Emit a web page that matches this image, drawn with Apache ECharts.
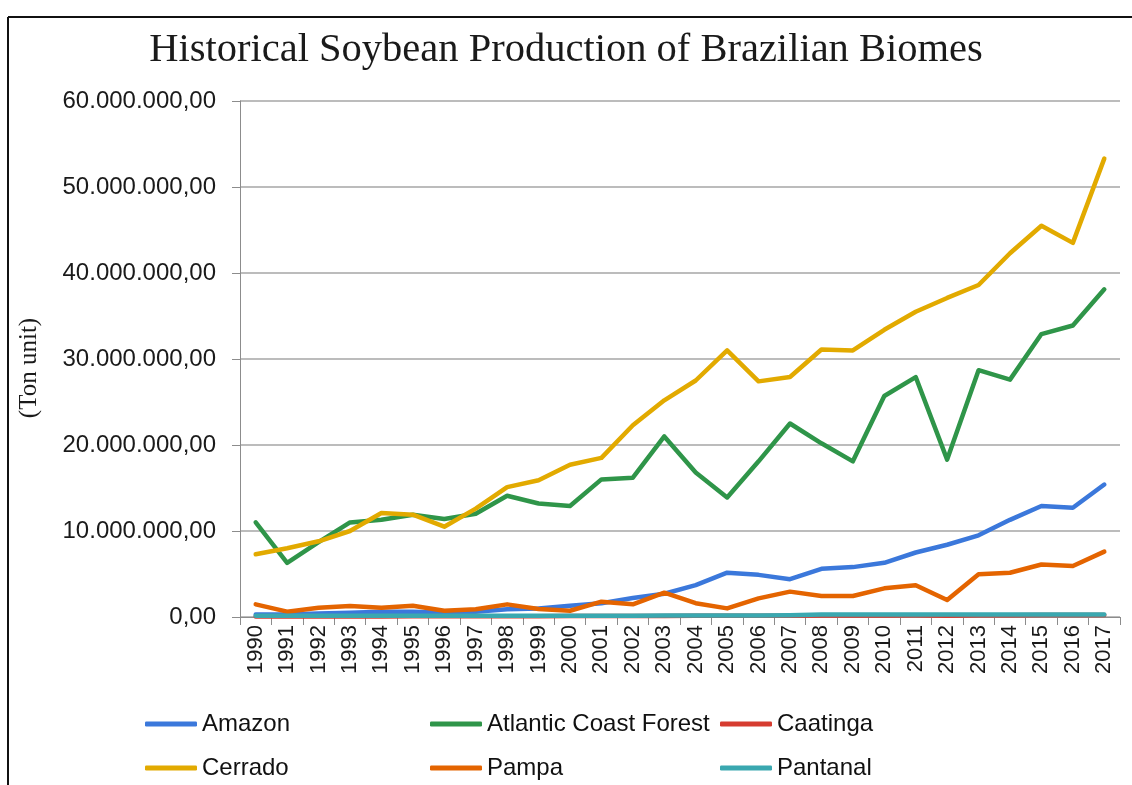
<!DOCTYPE html>
<html>
<head>
<meta charset="utf-8">
<title>Historical Soybean Production of Brazilian Biomes</title>
<script src="https://cdn.jsdelivr.net/npm/echarts@6/dist/echarts.min.js"></script>
<style>
  html, body { margin: 0; padding: 0; background: #fff; }
  #main { width: 1132px; height: 785px; }
</style>
</head>
<body>
<div id="main"></div>
<script>
// values in millions of tons
const years = ['1990', '1991', '1992', '1993', '1994', '1995', '1996', '1997', '1998', '1999',
  '2000', '2001', '2002', '2003', '2004', '2005', '2006', '2007', '2008', '2009',
  '2010', '2011', '2012', '2013', '2014', '2015', '2016', '2017']
const amazon = [0.3, 0.3, 0.4, 0.5, 0.6, 0.6, 0.5, 0.6, 0.9, 1.0, 1.3, 1.6, 2.2, 2.7, 3.7, 5.15, 4.9, 4.4,
  5.6, 5.8, 6.3, 7.5, 8.4, 9.5, 11.3, 12.9, 12.7, 15.4]
const atlantic = [11.0, 6.3, 8.7, 11.0, 11.3, 11.9, 11.4, 12.0, 14.1, 13.2, 12.9, 16.0, 16.2, 21.0, 16.8,
  13.9, 18.1, 22.5, 20.2, 18.1, 25.7, 27.9, 18.3, 28.7, 27.6, 32.9, 33.9, 38.1]
const caatinga = [0.05, 0.05, 0.06, 0.06, 0.07, 0.08, 0.08, 0.09, 0.1, 0.1, 0.11, 0.12, 0.12, 0.13, 0.14,
  0.14, 0.15, 0.15, 0.16, 0.17, 0.18, 0.19, 0.15, 0.2, 0.21, 0.22, 0.22, 0.24]
const cerrado = [7.3, 8.0, 8.8, 10.0, 12.1, 11.9, 10.5, 12.6, 15.1, 15.9, 17.7, 18.5, 22.3, 25.2, 27.5,
  31.0, 27.4, 27.9, 31.1, 31.0, 33.4, 35.5, 37.1, 38.6, 42.3, 45.5, 43.5, 53.3]
const pampa = [1.47, 0.62, 1.08, 1.28, 1.08, 1.31, 0.73, 0.9, 1.47, 0.93, 0.73, 1.78, 1.47, 2.83, 1.6,
  1.0, 2.17, 2.95, 2.44, 2.44, 3.33, 3.7, 1.98, 4.96, 5.15, 6.1, 5.93, 7.6]
const pantanal = [0.15, 0.15, 0.15, 0.15, 0.15, 0.15, 0.15, 0.15, 0.15, 0.15, 0.15, 0.15, 0.15, 0.16, 0.17,
  0.17, 0.18, 0.2, 0.28, 0.3, 0.3, 0.3, 0.3, 0.3, 0.3, 0.3, 0.3, 0.3]
const yTicks = [0, 10, 20, 30, 40, 50, 60]

const seriesNames = ['Amazon', 'Atlantic Coast Forest', 'Caatinga', 'Cerrado', 'Pampa', 'Pantanal']
const seriesData = [amazon, atlantic, caatinga, cerrado, pampa, pantanal]
const colors = ['#3b78db', '#2f9549', '#d63c30', '#e2aa00', '#e46400', '#3aa8b0']

const fmt = (v) => {
  const s = String(Math.round(v * 1000000)).replace(/\B(?=(\d{3})+(?!\d))/g, '.')
  return s + ',00'
}

const legendPos = [
  { left: 145, top: 712 }, { left: 430, top: 712 }, { left: 720, top: 712 },
  { left: 145, top: 756 }, { left: 430, top: 756 }, { left: 720, top: 756 }
]

const chart = echarts.init(document.getElementById('main'))
const option = {
  animation: false,
  backgroundColor: '#fff',
  color: colors,
  title: {
    text: 'Historical Soybean Production of Brazilian Biomes',
    left: 'center',
    top: 25,
    textStyle: {
      fontFamily: 'Liberation Serif',
      fontWeight: 'normal',
      fontSize: 40.5,
      color: '#1a1a1a'
    }
  },
  graphic: [
    { type: 'line', shape: { x1: 8, y1: 17, x2: 1132, y2: 17 }, style: { stroke: '#111', lineWidth: 2 } },
    { type: 'line', shape: { x1: 8, y1: 17, x2: 8, y2: 785 }, style: { stroke: '#111', lineWidth: 2 } },
    {
      type: 'text',
      x: 29,
      y: 368,
      rotation: Math.PI / 2,
      style: {
        text: '(Ton unit)',
        fontFamily: 'Liberation Serif',
        fontSize: 25,
        fill: '#1a1a1a',
        align: 'center',
        verticalAlign: 'middle'
      }
    }
  ],
  legend: seriesNames.map((name, i) => ({
    data: [name],
    left: legendPos[i].left,
    top: legendPos[i].top,
    padding: 0,
    icon: 'roundRect',
    itemWidth: 52,
    itemHeight: 5,
    textStyle: { fontFamily: 'Liberation Sans', fontSize: 24, color: '#111' }
  })),
  grid: {
    left: 240,
    right: 12,
    top: 101,
    bottom: 168
  },
  xAxis: {
    type: 'category',
    data: years,
    boundaryGap: true,
    axisLine: { lineStyle: { color: '#8c8c8c', width: 1 } },
    axisTick: { show: true, interval: 0, length: 8, lineStyle: { color: '#8c8c8c' } },
    axisLabel: {
      interval: 0,
      rotate: 90,
      margin: 8,
      fontFamily: 'Liberation Sans',
      fontSize: 22,
      color: '#1a1a1a'
    }
  },
  yAxis: {
    type: 'value',
    min: yTicks[0],
    max: yTicks[yTicks.length - 1],
    interval: 10,
    axisLine: { show: true, lineStyle: { color: '#8c8c8c', width: 1 } },
    axisTick: { show: true, length: 8, lineStyle: { color: '#8c8c8c' } },
    splitLine: { lineStyle: { color: '#a6a6a6', width: 1.5 } },
    axisLabel: {
      margin: 24,
      fontFamily: 'Liberation Sans',
      fontSize: 24,
      color: '#1a1a1a',
      formatter: fmt
    }
  },
  series: seriesNames.map((name, i) => ({
    name: name,
    type: 'line',
    data: seriesData[i],
    symbol: 'none',
    lineStyle: { width: 4.5, color: colors[i], cap: 'round', join: 'round' }
  }))
}
chart.setOption(option)
</script>
</body>
</html>
